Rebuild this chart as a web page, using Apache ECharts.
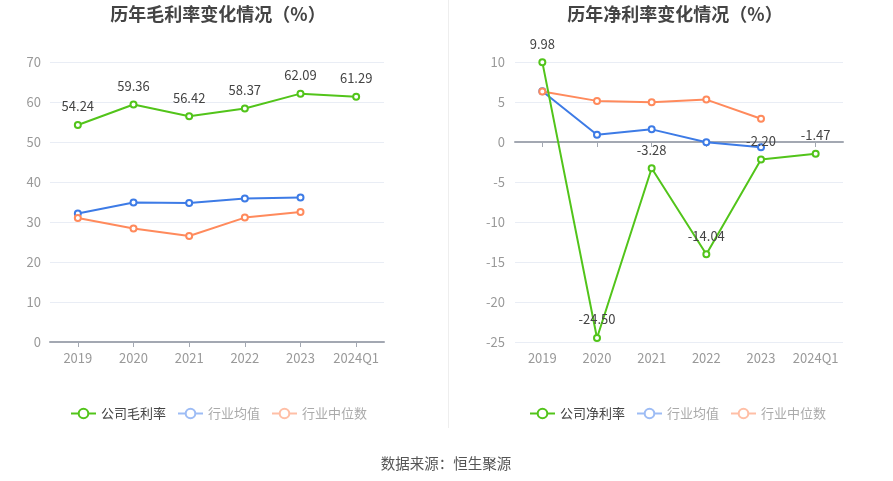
<!DOCTYPE html>
<html><head><meta charset="utf-8">
<script src="https://cdn.jsdelivr.net/npm/echarts@6/dist/echarts.min.js"></script>
<style>html,body{margin:0;padding:0;background:#fff}#c{width:893px;height:481px}</style>
</head><body><div id="c"></div>
<script>
var categories = ['2019','2020','2021','2022','2023','2024Q1'];
var grossCompany = [54.24, 59.36, 56.42, 58.37, 62.09, 61.29];
var grossMean = [32.1, 34.85, 34.75, 35.9, 36.1];
var grossMedian = [31.0, 28.4, 26.5, 31.1, 32.5];
var netCompany = [9.98, -24.50, -3.28, -14.04, -2.20, -1.47];
var netMean = [6.35, 0.91, 1.58, -0.04, -0.66];
var netMedian = [6.3, 5.14, 4.98, 5.3, 2.9];
var leftTicks = {min: 0, max: 70, interval: 10};
var rightTicks = {min: -25, max: 10, interval: 5};

var GREEN = '#52C41A', BLUE = '#3D7BE6', ORANGE = '#FF8A5C';
var FONT = '"Noto Sans CJK SC", "Noto Sans", sans-serif';

function lineSeries(name, data, color, xi, yi, showLabel) {
  return {
    type: 'line', name: name, data: data, xAxisIndex: xi, yAxisIndex: yi,
    symbol: 'emptyCircle', symbolSize: 6,
    lineStyle: {width: 2, color: color},
    itemStyle: {color: color, borderWidth: 2},
    label: showLabel ? {show: true, position: 'top', distance: 8, color: '#444', fontSize: 13, fontFamily: FONT,
      formatter: function(p){ return Number(p.value).toFixed(2); }} : {show: false},
    z: showLabel ? 3 : 2
  };
}
function legendData(first) {
  return [
    {name: first, textStyle: {color: '#444'}},
    {name: '行业均值', itemStyle: {color: '#9DBCF5', borderColor: '#9DBCF5'}, lineStyle: {color: '#9DBCF5'}, textStyle: {color: '#aaa'}},
    {name: '行业中位数', itemStyle: {color: '#FFBFA6', borderColor: '#FFBFA6'}, lineStyle: {color: '#FFBFA6'}, textStyle: {color: '#aaa'}}
  ];
}
var axisLabelStyle = {color: '#999', fontSize: 13, fontFamily: FONT};
var splitLine = {show: true, lineStyle: {color: '#E9EDF5', width: 1}};

var option = {
  animation: false,
  textStyle: {fontFamily: FONT},
  title: [
    {text: '历年毛利率变化情况（%）', left: 213, top: 0, textAlign: 'center', textStyle: {fontSize: 18, fontWeight: 'bold', color: '#444', fontFamily: FONT}},
    {text: '历年净利率变化情况（%）', left: 670, top: 0, textAlign: 'center', textStyle: {fontSize: 18, fontWeight: 'bold', color: '#444', fontFamily: FONT}},
    {text: '数据来源：恒生聚源', left: 441, top: 451, textAlign: 'center', textStyle: {fontSize: 14.5, fontWeight: 'normal', color: '#555', fontFamily: FONT}}
  ],
  graphic: [{type: 'line', shape: {x1: 448.5, y1: 0, x2: 448.5, y2: 428}, style: {stroke: '#EEEEEE', lineWidth: 1}}],
  legend: [
    {data: legendData('公司毛利率'), left: 65, top: 402, itemGap: 11, itemWidth: 25, itemHeight: 12, textStyle: {fontSize: 13, fontFamily: FONT}},
    {data: legendData('公司净利率'), left: 524, top: 402, itemGap: 11, itemWidth: 25, itemHeight: 12, textStyle: {fontSize: 13, fontFamily: FONT}}
  ],
  grid: [
    {left: 50, right: 509, top: 62, bottom: 139},
    {left: 515, right: 50, top: 62, bottom: 139}
  ],
  xAxis: [
    {type: 'category', gridIndex: 0, data: categories, boundaryGap: true,
     axisLine: {lineStyle: {color: '#A3A8B2', width: 2}},
     axisTick: {show: true, alignWithLabel: true, length: 5, lineStyle: {color: '#A3A8B2'}},
     axisLabel: Object.assign({margin: 10, interval: 0}, axisLabelStyle)},
    {type: 'category', gridIndex: 1, data: categories, boundaryGap: true,
     axisLine: {onZero: true, lineStyle: {color: '#A3A8B2', width: 2}},
     axisTick: {show: true, alignWithLabel: true, interval: 0, length: 5, lineStyle: {color: '#A3A8B2'}},
     axisLabel: {show: false, interval: 0}},
    {type: 'category', gridIndex: 1, data: categories, boundaryGap: true, position: 'bottom',
     axisLine: {show: false, onZero: false}, axisTick: {show: false},
     axisLabel: Object.assign({margin: 10, interval: 0}, axisLabelStyle)}
  ],
  yAxis: [
    {type: 'value', gridIndex: 0, min: leftTicks.min, max: leftTicks.max, interval: leftTicks.interval,
     axisLine: {show: false}, axisTick: {show: false}, axisLabel: Object.assign({margin: 9}, axisLabelStyle), splitLine: splitLine},
    {type: 'value', gridIndex: 1, min: rightTicks.min, max: rightTicks.max, interval: rightTicks.interval,
     axisLine: {show: false}, axisTick: {show: false}, axisLabel: Object.assign({margin: 10}, axisLabelStyle), splitLine: splitLine}
  ],
  series: [
    lineSeries('行业均值', grossMean, BLUE, 0, 0, false),
    lineSeries('行业中位数', grossMedian, ORANGE, 0, 0, false),
    lineSeries('公司毛利率', grossCompany, GREEN, 0, 0, true),
    lineSeries('行业均值', netMean, BLUE, 1, 1, false),
    lineSeries('行业中位数', netMedian, ORANGE, 1, 1, false),
    lineSeries('公司净利率', netCompany, GREEN, 1, 1, true)
  ]
};
var chart = echarts.init(document.getElementById('c'), null, {renderer: 'canvas'});
chart.setOption(option);
</script>
</body></html>
